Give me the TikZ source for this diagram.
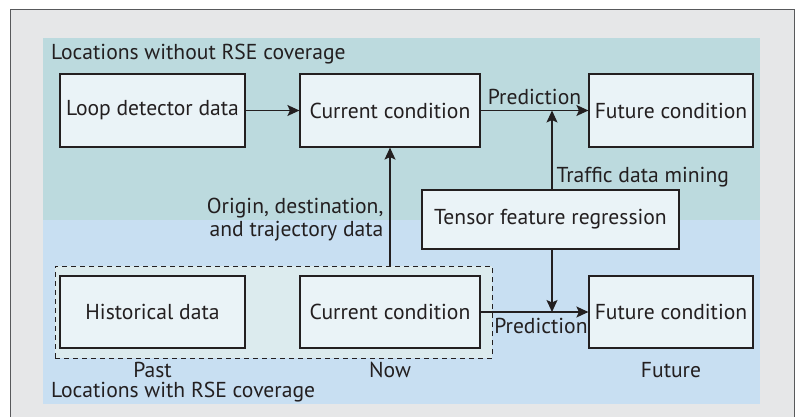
\documentclass[tikz,border=0pt]{standalone}
\usepackage{fontspec}
\setmainfont{PT Sans}
\usetikzlibrary{arrows.meta, calc, positioning}
\definecolor{framegray}{RGB}{230,231,232}
\definecolor{frameline}{RGB}{88,89,91}
\definecolor{tealzone}{RGB}{188,218,222}
\definecolor{bluezone}{RGB}{200,223,242}
\definecolor{boxfill}{RGB}{234,243,247}
\definecolor{groupfill}{RGB}{220,235,238}
\definecolor{inkcol}{RGB}{35,31,32}

\begin{document}
\begin{tikzpicture}[x=1pt, y=-1pt, font=\fontsize{21.6}{23}\selectfont, text=inkcol,
  databox/.style={draw=inkcol, fill=boxfill, line width=1.2pt, minimum height=73pt, inner sep=0pt},
  groupbox/.style={draw=inkcol, fill=groupfill, line width=1pt, dash pattern=on 5pt off 4pt, inner sep=0pt},
  plain/.style={inner sep=0pt},
  flow/.style={draw=inkcol, line width=1.2pt, -{Stealth[length=12pt, width=11pt, inset=2.5pt]}}]
\useasboundingbox (0,0) rectangle (798,417);
% background zones
\fill[framegray] (10,10) rectangle (794,417);
\draw[frameline, line width=1pt] (10,417) -- (10,10) -- (794,10) -- (794,417);
\fill[tealzone] (43,38) rectangle (760,219.5);
\fill[bluezone] (43,219.5) rectangle (760,404);
\node[groupbox, minimum width=437pt, minimum height=92pt] (group) at (273.5,312) {};

% boxes
\node[databox, minimum width=185pt] (loop) at (152.5,110.5) {Loop detector data};
\node[databox, minimum width=180pt] (curtop) at (390,110.5) {Current condition};
\node[databox, minimum width=164pt] (futtop) at (671,110.5) {Future condition};
\node[databox, minimum width=257pt, minimum height=59pt] (tensor) at (550.5,219.5) {Tensor feature regression};
\node[databox, minimum width=185pt, minimum height=72pt] (hist) at (152.5,312) {Historical data};
\node[databox, minimum width=180pt, minimum height=72pt] (curlow) at (390,312) {Current condition};
\node[databox, minimum width=164pt, minimum height=72pt] (futlow) at (671,312) {Future condition};

% texts
\node[plain, anchor=base west] (nocov) at (51,60) {Locations without RSE coverage};
\node[plain, anchor=base west] (cov) at (51,397) {Locations with RSE coverage};
\node[plain, anchor=base] (past) at (152.5,377) {Past};
\node[plain, anchor=base] (now) at (390,377) {Now};
\node[plain, anchor=base] (future) at (671,377) {Future};

% connectors
\draw[flow] (loop) -- (curtop);
\draw[flow] (curtop) -- node[above, inner sep=5pt] (predtop) {Prediction} (futtop);
\draw[flow] (tensor.north -| 552,0) -- (curtop.east -| 552,0)
  node[pos=0.16, right, inner sep=4pt] (mining) {Traffic data mining};
\draw[flow] (group.north -| curlow.north) -- (curtop.south)
  node[pos=0.39, left, align=right, inner sep=6pt] (origin) {Origin, destination,\\and trajectory data};
\draw[flow] (curlow) -- node[pos=0.56, below=2pt] (predlow) {Prediction} (futlow);
\draw[flow] (tensor.south -| 552,0) -- (curlow.east -| 552,0);
\end{tikzpicture}
\end{document}
